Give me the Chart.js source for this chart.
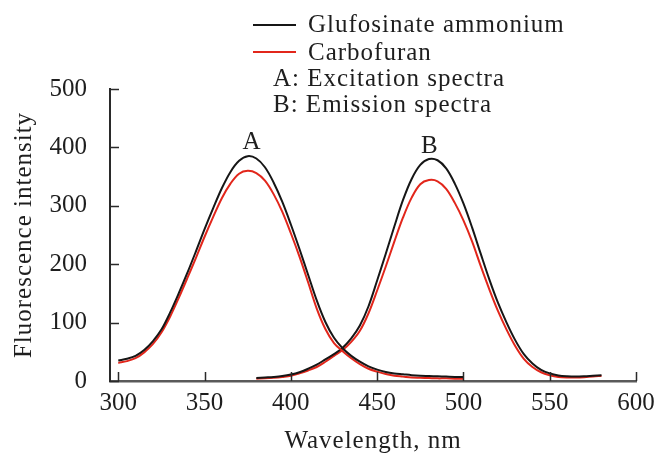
<!DOCTYPE html>
<html>
<head>
<meta charset="utf-8">
<script src="https://cdn.jsdelivr.net/npm/chart.js@4.4.0/dist/chart.umd.min.js"></script>
<style>
  html, body { margin: 0; padding: 0; background: #fff; }
  canvas { display: block; }
</style>
</head>
<body>
<canvas id="chart" width="654" height="456"></canvas>
<script>
// Fluorescence spectra: A = excitation, B = emission

// Wavelengths (nm) sampled for curve A and curve B
const waveA = [300, 305, 310, 315, 320, 325, 330, 335, 340, 345, 350, 355, 360, 365, 370, 375, 380, 385, 390, 395,
               400, 405, 410, 415, 420, 425, 430, 435, 440, 445, 450, 455, 460, 465, 470, 475, 480, 485, 490, 495, 500];
const waveB = [380, 385, 390, 395, 400, 405, 410, 415, 420, 425, 430, 435, 440, 445, 450, 455, 460, 465, 470, 475,
               480, 485, 490, 495, 500, 505, 510, 515, 520, 525, 530, 535, 540, 545, 550, 555, 560, 565, 570, 575, 580];

// Glufosinate ammonium (black)
const glufA = [35, 38, 43, 53, 68, 88, 117, 150, 185, 222, 260, 296, 330, 358, 377, 385, 381, 366, 340, 307,
               268, 226, 182, 138, 101, 74, 56, 43, 33, 25, 19.5, 15.5, 13, 11.5, 10, 9, 8.5, 8, 7.5, 7, 7];
const glufB = [5, 6, 7, 8.5, 11, 15, 21, 28, 37, 46, 57, 73, 95, 128, 172, 218, 265, 310, 346, 370,
               380, 378, 364, 338, 304, 263, 218, 174, 134, 100, 70, 46, 30, 19, 13, 9.5, 8, 7.5, 8, 9, 10];

// Carbofuran (red)
const carbA = [31, 34, 39, 49, 63, 83, 110, 142, 176, 211, 247, 281, 313, 338, 355, 360, 356, 343, 320, 290,
               253, 213, 169, 124, 89, 65, 51, 39, 29, 21, 16, 12, 9, 7.5, 6, 5.5, 5, 4.5, 4.5, 4, 4];
const carbB = [4, 4.5, 5.5, 7, 9, 13, 18, 24, 33, 43, 53, 67, 86, 116, 155, 196, 239, 280, 314, 337,
               344, 342, 329, 305, 275, 239, 197, 157, 120, 88, 60, 38, 24, 15, 10, 7, 6, 6, 6.5, 7.5, 9];

const xTicks = [300, 350, 400, 450, 500, 550, 600];
const yTicks = [0, 100, 200, 300, 400, 500];

const seriesNames = ['Glufosinate ammonium', 'Carbofuran'];
const seriesColors = ['#161616', '#e2261b'];
const noteLines = ['A: Excitation spectra', 'B: Emission spectra'];
const xTitle = 'Wavelength, nm';
const yTitle = 'Fluorescence intensity';

const SERIF = '"Liberation Serif", "Times New Roman", serif';

function toPoints(xs, ys) {
  return xs.map((x, i) => ({ x: x, y: ys[i] }));
}

function lineSet(label, xs, ys, color) {
  return {
    label: label,
    data: toPoints(xs, ys),
    borderColor: color,
    borderWidth: 2,
    pointRadius: 0,
    tension: 0.35,
    fill: false
  };
}

// Draws inward ticks, peak letters, the legend block and axis titles
const decorations = {
  id: 'decorations',
  afterDatasetsDraw(chart) {
    const { ctx, chartArea } = chart;
    const x = chart.scales.x;
    const y = chart.scales.y;
    ctx.save();

    // tick marks pointing into the plot
    ctx.strokeStyle = '#2a2a2a';
    ctx.lineWidth = 1.5;
    ctx.beginPath();
    xTicks.forEach(v => {
      const px = Math.round(x.getPixelForValue(v)) + 0.5;
      ctx.moveTo(px, chartArea.bottom);
      ctx.lineTo(px, chartArea.bottom - 9);
    });
    yTicks.forEach(v => {
      const py = Math.round(y.getPixelForValue(v)) + 0.5;
      ctx.moveTo(chartArea.left, py);
      ctx.lineTo(chartArea.left + 9, py);
    });
    ctx.stroke();

    ctx.fillStyle = '#1e1e1e';
    ctx.font = '25px ' + SERIF;
    if ('letterSpacing' in ctx) ctx.letterSpacing = '1px';

    // peak letters
    ctx.textAlign = 'center';
    ctx.textBaseline = 'alphabetic';
    ctx.fillText('A', x.getPixelForValue(377.5), y.getPixelForValue(397));
    ctx.fillText('B', x.getPixelForValue(480.6), y.getPixelForValue(391));

    // legend
    ctx.textAlign = 'left';
    ctx.lineWidth = 2;
    seriesNames.forEach((name, i) => {
      const ly = 25 + i * 27;
      ctx.strokeStyle = seriesColors[i];
      ctx.beginPath();
      ctx.moveTo(253, ly);
      ctx.lineTo(296, ly);
      ctx.stroke();
      ctx.fillText(name, 308, 32 + i * 28);
    });
    noteLines.forEach((line, i) => {
      ctx.fillText(line, 273, 86 + i * 25.5);
    });

    // axis titles
    ctx.textAlign = 'center';
    ctx.fillText(xTitle, (chartArea.left + chartArea.right) / 2, 448);
    ctx.translate(31, (chartArea.top + chartArea.bottom) / 2);
    ctx.rotate(-Math.PI / 2);
    ctx.fillText(yTitle, 0, 0);

    ctx.restore();
  }
};

const ctx = document.getElementById('chart').getContext('2d');
new Chart(ctx, {
  type: 'line',
  data: {
    datasets: [
      lineSet(seriesNames[0], waveA, glufA, seriesColors[0]),
      lineSet(seriesNames[1], waveA, carbA, seriesColors[1]),
      lineSet(seriesNames[0], waveB, glufB, seriesColors[0]),
      lineSet(seriesNames[1], waveB, carbB, seriesColors[1])
    ]
  },
  options: {
    responsive: false,
    animation: false,
    devicePixelRatio: 1,
    layout: { padding: { top: 89, right: 18, left: 0, bottom: 0 } },
    plugins: {
      legend: { display: false },
      tooltip: { enabled: false }
    },
    scales: {
      x: {
        type: 'linear',
        min: 295.2,
        max: 600,
        afterBuildTicks: (scale) => {
          scale.ticks = xTicks.map(v => ({ value: v }));
        },
        afterFit: (scale) => {
          scale.height = 75;
          scale.paddingLeft = 0;
          scale.paddingRight = 0;
        },
        grid: { display: false, drawTicks: false },
        border: { display: true, color: '#5a5a5a', width: 2.5 },
        ticks: {
          padding: 7,
          maxRotation: 0,
          color: '#1e1e1e',
          font: { family: SERIF, size: 25 }
        }
      },
      y: {
        min: 0,
        max: 500,
        afterBuildTicks: (scale) => {
          scale.ticks = yTicks.map(v => ({ value: v }));
        },
        afterFit: (scale) => {
          scale.width = 110;
          scale.paddingTop = 0;
          scale.paddingBottom = 0;
        },
        grid: { display: false, drawTicks: false },
        border: { display: true, color: '#2a2a2a', width: 2 },
        ticks: {
          padding: 23,
          color: '#1e1e1e',
          font: { family: SERIF, size: 25 }
        }
      }
    }
  },
  plugins: [decorations]
});
</script>
</body>
</html>
